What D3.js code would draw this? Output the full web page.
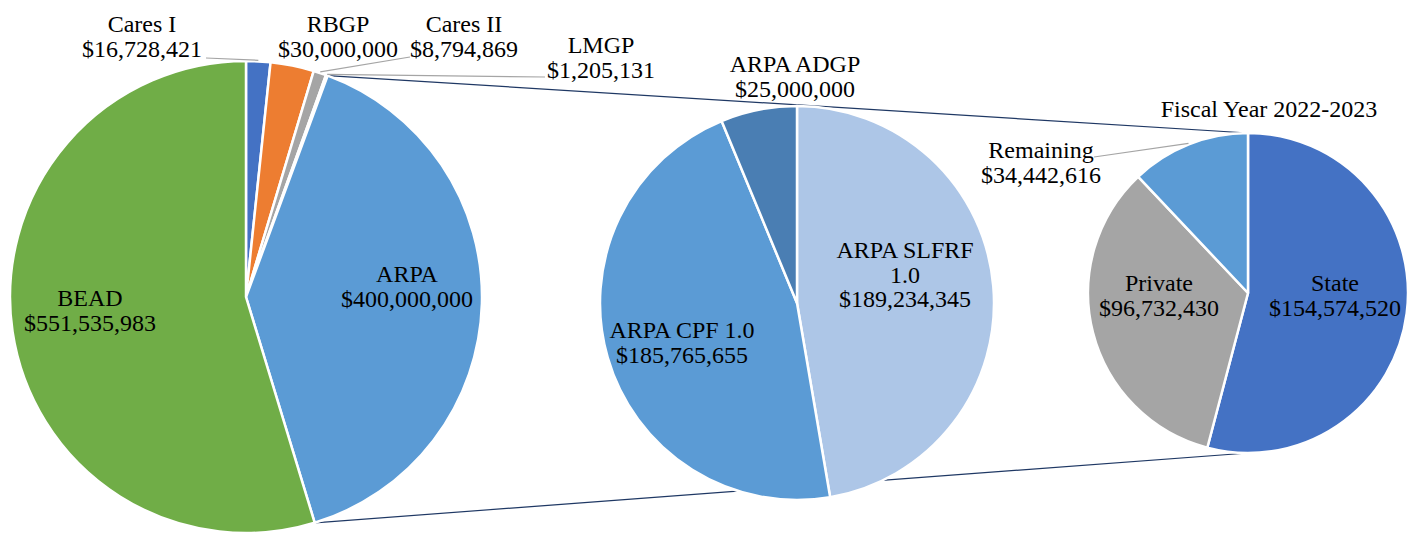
<!DOCTYPE html>
<html>
<head>
<meta charset="utf-8">
<script src="https://cdn.jsdelivr.net/npm/d3@7"></script>
<style>
  body { margin: 0; background: #fff; }
  svg text { font-family: "Liberation Serif", "Times New Roman", serif; font-size: 24px; fill: #000; }
</style>
</head>
<body>
<div id="chart"></div>
<script>
// --- data ---
var fundNames  = ["Cares I", "RBGP", "Cares II", "LMGP", "ARPA", "BEAD"];
var fundValues = [16728421, 30000000, 8794869, 1205131, 400000000, 551535983];
var fundColors = ["#4472C4", "#ED7D31", "#A5A5A5", "#FFC000", "#5B9BD5", "#70AD47"];

var arpaNames  = ["ARPA SLFRF 1.0", "ARPA CPF 1.0", "ARPA ADGP"];
var arpaValues = [189234345, 185765655, 25000000];
var arpaColors = ["#ADC6E7", "#5B9BD5", "#4A7EB3"];

var fyNames  = ["State", "Private", "Remaining"];
var fyValues = [154574520, 96732430, 34442616];
var fyColors = ["#4472C4", "#A5A5A5", "#5B9BD5"];

var fyTitle = "Fiscal Year 2022-2023";

var fmt = function(v){ return "$" + d3.format(",")(v); };

var W = 1416, H = 533;
var svg = d3.select("#chart").append("svg")
	.attr("width", W)
	.attr("height", H);

// pie layouts (start at 12 o'clock, clockwise, keep order)
var pieGen = d3.pie().sort(null).value(function(d){ return d.value; });

function build(names, values, colors){
	return pieGen(names.map(function(n, i){ return {name: n, value: values[i], color: colors[i]}; }));
}

var left   = {cx: 246, cy: 297, r: 236, arcs: build(fundNames, fundValues, fundColors)};
var middle = {cx: 797, cy: 303, r: 197, arcs: build(arpaNames, arpaValues, arpaColors)};
var right  = {cx: 1248, cy: 293, r: 160, arcs: build(fyNames, fyValues, fyColors)};

function edgePoint(p, angle, rr){
	var r = rr || p.r;
	return [p.cx + r * Math.sin(angle), p.cy - r * Math.cos(angle)];
}

// connector lines from ARPA slice to fiscal-year pie (behind middle pie)
var arpaArc = left.arcs[4];
var c1 = edgePoint(left, arpaArc.startAngle), c2 = edgePoint(left, arpaArc.endAngle);
var connectors = [[c1, edgePoint(right, 0)], [c2, edgePoint(right, Math.PI)]];
svg.selectAll("line.connector")
	.data(connectors)
	.enter().append("line")
	.attr("class", "connector")
	.attr("x1", function(d){ return d[0][0]; })
	.attr("y1", function(d){ return d[0][1]; })
	.attr("x2", function(d){ return d[1][0]; })
	.attr("y2", function(d){ return d[1][1]; })
	.attr("stroke", "#1F3864")
	.attr("stroke-width", 1.2);

function drawPie(p){
	var arc = d3.arc().innerRadius(0).outerRadius(p.r);
	var g = svg.append("g").attr("transform", "translate(" + p.cx + "," + p.cy + ")");
	g.selectAll("path")
		.data(p.arcs)
		.enter().append("path")
		.attr("d", arc)
		.attr("fill", function(d){ return d.data.color; })
		.attr("stroke", "#fff")
		.attr("stroke-width", 2.5)
		.attr("stroke-linejoin", "round");
	return g;
}
drawPie(left);
drawPie(middle);
drawPie(right);

// label anchors (first baseline) and optional leader-line start
var lineGap = 24.5;
var labels = [
	{p: left, i: 0, x: 142, y: 32, leader: [206, 58]},
	{p: left, i: 1, x: 338, y: 32},
	{p: left, i: 2, x: 464, y: 32, leader: [410, 57]},
	{p: left, i: 3, x: 601, y: 53, leader: [545, 77]},
	{p: left, i: 4, x: 407, y: 282},
	{p: left, i: 5, x: 90,  y: 306},
	{p: middle, i: 0, x: 905, y: 258, split: true},
	{p: middle, i: 1, x: 682, y: 338},
	{p: middle, i: 2, x: 795, y: 72},
	{p: right, i: 0, x: 1335, y: 291},
	{p: right, i: 1, x: 1159, y: 291},
	{p: right, i: 2, x: 1041, y: 158, leader: [1094, 157]}
];

labels.forEach(function(L){
	var a = L.p.arcs[L.i];
	if (L.leader) {
		var mid = (a.startAngle + a.endAngle) / 2;
		var e = edgePoint(L.p, mid, L.p.r + 1);
		svg.append("line")
			.attr("x1", L.leader[0]).attr("y1", L.leader[1])
			.attr("x2", e[0]).attr("y2", e[1])
			.attr("stroke", "#A5A5A5")
			.attr("stroke-width", 1.2);
	}
	var lines = L.split ? ["ARPA SLFRF", "1.0"] : [a.data.name];
	lines.push(fmt(a.data.value));
	var t = svg.append("text")
		.attr("text-anchor", "middle")
		.attr("x", L.x).attr("y", L.y);
	lines.forEach(function(s, k){
		t.append("tspan").attr("x", L.x).attr("y", L.y + k * lineGap).text(s);
	});
});

svg.append("text")
	.attr("x", 1269).attr("y", 117)
	.attr("text-anchor", "middle")
	.text(fyTitle);
</script>
</body>
</html>
